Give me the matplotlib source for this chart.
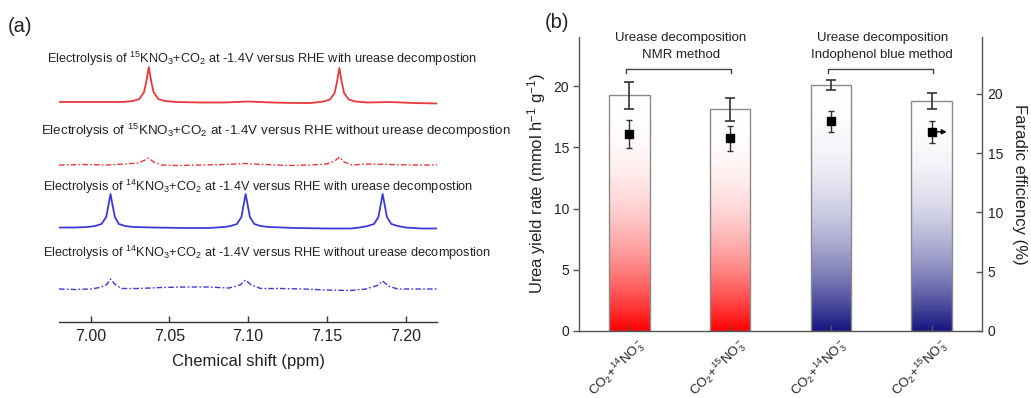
import numpy as np
import matplotlib
matplotlib.use("Agg")
import matplotlib.pyplot as plt
from matplotlib.transforms import offset_copy
from matplotlib.colors import to_rgb

plt.rcParams['font.family'] = ['Liberation Sans', 'DejaVu Sans']
plt.rcParams['mathtext.fontset'] = 'custom'
plt.rcParams['mathtext.rm'] = 'Liberation Sans'
plt.rcParams['mathtext.it'] = 'Liberation Sans:italic'
plt.rcParams['mathtext.bf'] = 'Liberation Sans:bold'
plt.rcParams['mathtext.default'] = 'regular'

# ---------------- (a) 1H NMR spectra ----------------
shift_15n_with = [6.980, 6.995, 7.010, 7.020, 7.027, 7.031, 7.034, 7.0355, 7.037, 7.0385,
                  7.040, 7.043, 7.047, 7.055, 7.070, 7.085, 7.100, 7.115, 7.130, 7.140,
                  7.148, 7.152, 7.155, 7.1565, 7.158, 7.1595, 7.161, 7.164, 7.168, 7.176,
                  7.190, 7.205, 7.220]
int_15n_with = [1.0, 1.0, 1.0, 1.0, 2.0, 4.0, 11.0, 22.0, 36.0, 22.0,
                11.0, 4.0, 2.0, 1.0, 0.5, 0.5, 1.5, 0.5, 0.0, 0.0,
                1.5, 3.5, 10.0, 21.0, 35.0, 21.0, 10.0, 3.5, 1.5, 0.5,
                1.0, 0.0, -0.5]

shift_15n_without = [6.980, 6.995, 7.010, 7.022, 7.030, 7.034, 7.037, 7.040, 7.045, 7.055,
                     7.070, 7.085, 7.098, 7.110, 7.125, 7.140, 7.150, 7.155, 7.158, 7.161,
                     7.166, 7.175, 7.190, 7.205, 7.220]
int_15n_without = [0.0, 0.5, 0.0, 1.0, 2.0, 4.5, 7.0, 3.0, 0.0, -0.5,
                   0.0, 0.5, 1.5, 0.5, -0.5, 0.0, 1.0, 4.0, 8.0, 3.0,
                   0.0, 1.0, 0.5, 0.0, 0.0]

shift_14n_with = [6.980, 6.990, 6.998, 7.003, 7.007, 7.0100, 7.0113, 7.0127, 7.0141, 7.0155,
                  7.018, 7.022, 7.027, 7.040, 7.060, 7.075, 7.085, 7.089, 7.093, 7.0958,
                  7.0971, 7.0985, 7.0999, 7.1012, 7.104, 7.108, 7.113, 7.130, 7.150, 7.165,
                  7.171, 7.176, 7.180, 7.1828, 7.1841, 7.1855, 7.1869, 7.1882, 7.191, 7.195,
                  7.200, 7.210, 7.220]
int_14n_with = [0.5, 0.5, 1.0, 2.0, 4.0, 11.0, 22.0, 34.0, 22.0, 11.0,
                4.0, 2.0, 1.0, 0.5, 0.0, 0.0, 1.0, 2.0, 4.0, 11.0,
                22.0, 34.0, 22.0, 11.0, 4.0, 2.0, 1.0, 0.0, -0.5, -0.5,
                0.5, 2.0, 4.0, 11.0, 22.0, 34.0, 22.0, 11.0, 4.0, 2.0,
                0.5, -0.5, -0.5]

shift_14n_without = [6.980, 6.990, 7.000, 7.006, 7.010, 7.0127, 7.016, 7.020, 7.030, 7.045,
                     7.060, 7.075, 7.088, 7.095, 7.0985, 7.102, 7.108, 7.120, 7.135, 7.150,
                     7.165, 7.175, 7.182, 7.1855, 7.189, 7.195, 7.205, 7.220]
int_14n_without = [0.0, -0.5, 0.0, 1.5, 4.0, 10.0, 4.0, 0.5, 0.5, 1.5,
                   2.0, 2.0, 1.0, 4.0, 9.0, 4.0, 0.5, 0.5, 0.0, -1.0,
                   -1.5, 0.0, 3.5, 8.0, 3.0, 0.0, 0.0, 0.0]

spectrum_titles = [
    r"Electrolysis of $^{15}$KNO$_3$+CO$_2$ at -1.4V versus RHE with urease decompostion",
    r"Electrolysis of $^{15}$KNO$_3$+CO$_2$ at -1.4V versus RHE without urease decompostion",
    r"Electrolysis of $^{14}$KNO$_3$+CO$_2$ at -1.4V versus RHE with urease decompostion",
    r"Electrolysis of $^{14}$KNO$_3$+CO$_2$ at -1.4V versus RHE without urease decompostion",
]
shift_ticks = [7.00, 7.05, 7.10, 7.15, 7.20]

# ---------------- (b) urea yield and faradaic efficiency ----------------
samples = [r"CO$_2$+$^{14}$NO$_3^-$", r"CO$_2$+$^{15}$NO$_3^-$",
           r"CO$_2$+$^{14}$NO$_3^-$", r"CO$_2$+$^{15}$NO$_3^-$"]
yield_rate = [19.25, 18.1, 20.05, 18.8]
yield_err = [1.1, 0.93, 0.4, 0.65]
faradaic_eff = [16.6, 16.25, 17.7, 16.8]
faradaic_err = [1.2, 1.05, 0.9, 0.9]
method_groups = [("Urease decomposition", "NMR method"),
                 ("Urease decomposition", "Indophenol blue method")]
yield_ticks = [0, 5, 10, 15, 20]
fe_ticks = [0, 5, 10, 15, 20]

W, H = 1031, 398
fig = plt.figure(figsize=(W / 100, H / 100), dpi=100)


def fx(px):
    return px / W


def fy(py):
    return 1 - py / H


# ---- panel (a) ----
axa = fig.add_axes([fx(59), fy(322), fx(437) - fx(59), fy(40) - fy(322)])
axa.set_xlim(6.98, 7.22)
axa.set_ylim(0, 282)
red_line = '#e8383c'
blue_line = '#3b3bd6'
dashdot = (0, (4, 1.6, 1.2, 1.6))
traces = [
    (shift_15n_with, int_15n_with, 219, red_line, '-', 1.3),
    (shift_15n_without, int_15n_without, 157, red_line, dashdot, 1.0),
    (shift_14n_with, int_14n_with, 94, blue_line, '-', 1.3),
    (shift_14n_without, int_14n_without, 33, blue_line, dashdot, 1.0),
]
for xs, ys, base, col, ls, lw in traces:
    axa.plot(xs, np.asarray(ys) + base, color=col, ls=ls, lw=lw)

for s in ['top', 'left', 'right']:
    axa.spines[s].set_visible(False)
axa.spines['bottom'].set_color('#333333')
axa.spines['bottom'].set_linewidth(1.0)
axa.set_yticks([])
axa.set_xticks(shift_ticks)
axa.set_xticklabels([f"{t:.2f}" for t in shift_ticks])
axa.tick_params(axis='x', direction='in', length=4, width=1, color='#333333',
                labelsize=11.5, pad=5, labelcolor='#222222')
axa.set_xlabel("Chemical shift (ppm)", fontsize=12, color='#222222', labelpad=7)

title_pos = [(47, 63, 9.2), (41, 135, 9.65), (43, 191.5, 9.2), (43, 257.5, 9.2)]
for txt, (px, py, fs) in zip(spectrum_titles, title_pos):
    fig.text(fx(px), fy(py), txt, fontsize=fs, ha='left', va='baseline', color='#222222')

fig.text(fx(8), fy(26), "(a)", fontsize=14.5, ha='left', va='center', color='#222222')
fig.text(fx(545), fy(22), "(b)", fontsize=14.5, ha='left', va='center', color='#222222')

# ---- panel (b) ----
axb = fig.add_axes([fx(579), fy(331), fx(982) - fx(579), fy(37) - fy(331)])
xpos = np.arange(1, len(yield_rate) + 1)
bar_w = 0.4
base_colors = ['#ff0000', '#ff0000', '#14147f', '#14147f']

tgrid = np.linspace(0, 1, 256)[:, None]
for x, h, c in zip(xpos, yield_rate, base_colors):
    rgb = np.array(to_rgb(c))
    strength = (1 - tgrid) ** 2.3
    img = 1 - strength[..., None] * (1 - rgb)[None, None, :]
    img = np.repeat(img, 2, axis=1)
    axb.imshow(img, extent=[x - bar_w / 2, x + bar_w / 2, 0, h], origin='lower',
               aspect='auto', zorder=1, interpolation='bilinear')
axb.bar(xpos, yield_rate, width=bar_w, facecolor='none', edgecolor='#8a8a8a',
        linewidth=1.0, zorder=2)
axb.errorbar(xpos, yield_rate, yerr=yield_err, fmt='none', ecolor='#333333',
             elinewidth=1.2, capsize=3.6, capthick=1.2, zorder=3)

axb.set_xlim(0.5, 4.5)
axb.set_ylim(0, 24)
axb.set_yticks(yield_ticks)
axb.set_xticks(xpos)
axb.set_xticklabels([])
for s in ['top', 'right']:
    axb.spines[s].set_visible(False)
for s in ['left', 'bottom']:
    axb.spines[s].set_color('#555555')
    axb.spines[s].set_linewidth(1.0)
axb.tick_params(axis='y', direction='out', length=4, width=1, color='#555555',
                labelsize=10, pad=3, labelcolor='#222222')
axb.tick_params(axis='x', direction='in', length=4, width=1, color='#555555')
axb.set_ylabel(r"Urea yield rate (mmol h$^{-1}$ g$^{-1}$)", fontsize=12,
               color='#222222', labelpad=4)

lbl_tr = offset_copy(axb.transData, fig=fig, x=7, y=-4, units='dots')
for x, lab in zip(xpos, samples):
    axb.text(x, 0, lab, transform=lbl_tr, rotation=45, ha='right', va='top',
             rotation_mode='anchor', fontsize=9.5, color='#222222')

# group brackets
for gi, (l1, l2) in enumerate(method_groups):
    xl, xr = xpos[2 * gi] - 0.03, xpos[2 * gi + 1] + 0.01
    yb, yt = 21.05, 21.4
    axb.plot([xl, xl, xr, xr], [yb, yt, yt, yb], color='#444444', lw=1.0,
             clip_on=False, zorder=3)
    xc = (xpos[2 * gi] + xpos[2 * gi + 1]) / 2 + 0.01
    axb.text(xc, 23.9, l1, ha='center', va='center', fontsize=9.5, color='#222222')
    axb.text(xc, 22.5, l2, ha='center', va='center', fontsize=9.5, color='#222222')

ax2 = axb.twinx()
ax2.set_ylim(0, 24.8)
ax2.errorbar(xpos, faradaic_eff, yerr=faradaic_err, fmt='s', color='black',
             ms=5.2, elinewidth=1.0, capsize=2.4, capthick=1.0, ecolor='#333333', zorder=4)
ax2.annotate('', xy=(xpos[3] + 0.15, faradaic_eff[3]),
             xytext=(xpos[3] + 0.04, faradaic_eff[3]),
             arrowprops=dict(arrowstyle='-|>', color='black', lw=1.0,
                             mutation_scale=7, shrinkA=0, shrinkB=0))
ax2.set_yticks(fe_ticks)
for s in ['top', 'left', 'bottom']:
    ax2.spines[s].set_visible(False)
ax2.spines['right'].set_color('#555555')
ax2.spines['right'].set_linewidth(1.0)
ax2.tick_params(axis='y', direction='in', length=4, width=1, color='#555555',
                labelsize=10, pad=4, labelcolor='#222222')
ax2.set_ylabel("Faradic efficiency (%)", fontsize=12, rotation=270,
               color='#222222', labelpad=17)

fig.savefig("out.png", dpi=100)
